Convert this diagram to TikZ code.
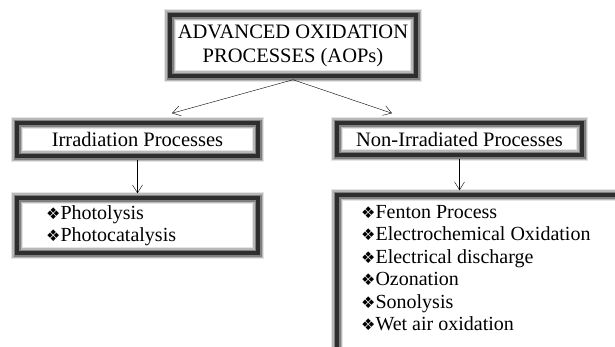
\documentclass[tikz,border=0pt]{standalone}
\usepackage{fontspec}
\setmainfont{Liberation Serif}
\newfontfamily\dingfont{DejaVu Sans}
\usetikzlibrary{arrows.meta,positioning,calc}
\newcommand{\itm}{{\dingfont\fontsize{16}{16}\selectfont ❖}}

\begin{document}
\begin{tikzpicture}[x=1pt,y=-1pt,
  procbox/.style={draw=black!82, line width=3.5pt,
    preaction={draw=black!10, line width=12pt},
    preaction={draw=black!28, line width=9.5pt},
    preaction={draw=black!50, line width=7pt},
    font=\fontsize{20.5}{24}\selectfont, inner sep=0pt, align=center},
  listtext/.style={font=\fontsize{20}{22.5}\selectfont, align=left,
    anchor=north west, inner sep=0pt},
  arr/.style={-{Straight Barb[length=8pt,width=10pt]}, thin}]
  \clip (0,0) rectangle (615,346);
  % Top box
  \node[procbox, minimum width=246, minimum height=61] (aop) at (293,45.5)
    {ADVANCED OXIDATION\\PROCESSES (AOPs)};
  % Second row
  \node[procbox, minimum width=241, minimum height=33] (irr) at (137.5,139.5)
    {Irradiation Processes};
  \node[procbox, minimum width=245, minimum height=32] (nonirr) at (459.5,139)
    {Non-Irradiated Processes};
  % Lists
  \node[procbox, minimum width=241, minimum height=55] (irrbox) at (137.5,225.5) {};
  \node[procbox, minimum width=303, minimum height=175] (nonbox) at (488.5,282.5) {};
  \node[listtext] (irrlist) at (46,205) {\itm Photolysis\\\itm Photocatalysis};
  \node[listtext] (nonlist) at (361,205) {\itm Fenton Process\\\itm Electrochemical Oxidation\\
    \itm Electrical discharge\\\itm Ozonation\\\itm Sonolysis\\\itm Wet air oxidation};
  % Arrows
  \draw[arr] ([yshift=-2pt]aop.south) -- ([shift={(34.5,-8)}]irr.north);
  \draw[arr] ([yshift=-2pt]aop.south) -- ([shift={(-67.5,-8)}]nonirr.north);
  \draw[arr] ([yshift=-2pt]irr.south) -- ([yshift=3pt]irrbox.north);
  \draw[arr] ([yshift=-2pt]nonirr.south) -- ($(nonirr.south |- nonbox.north)+(0,-3)$);
\end{tikzpicture}
\end{document}
